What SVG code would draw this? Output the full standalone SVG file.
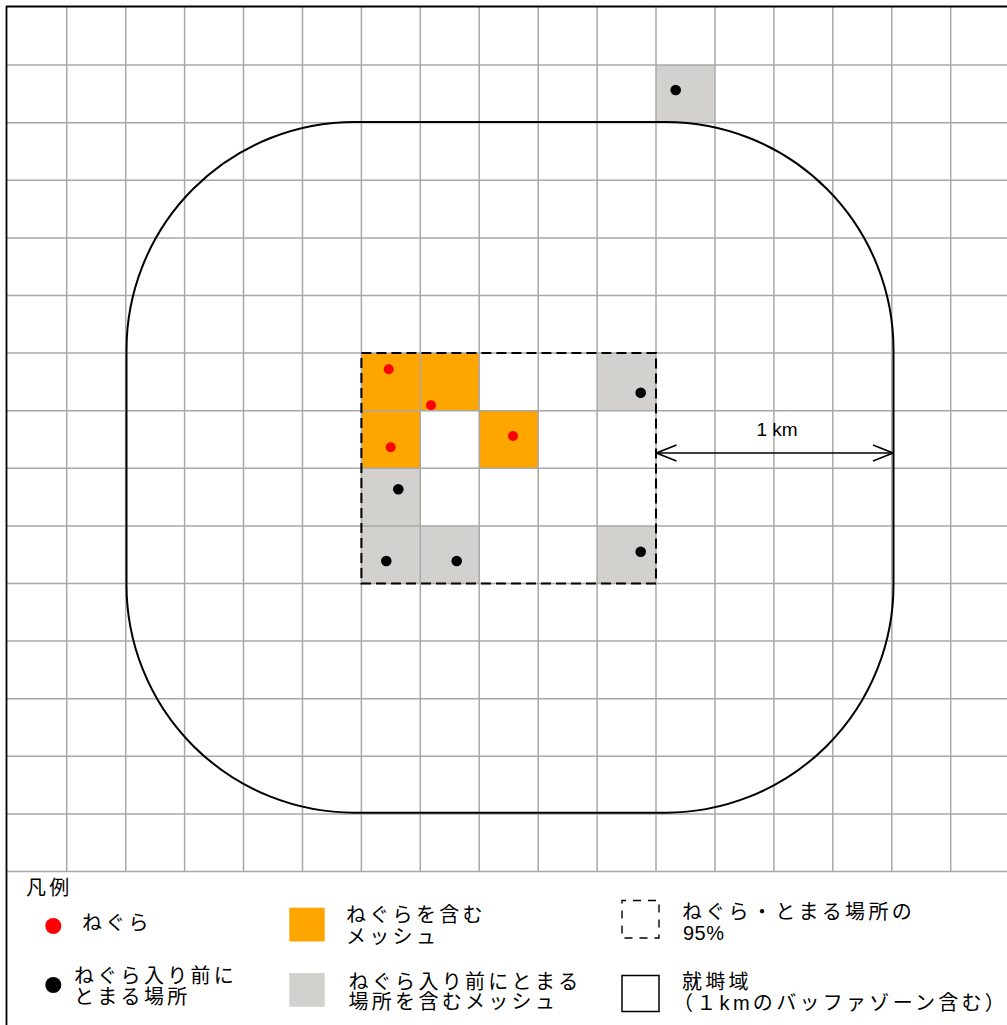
<svg xmlns="http://www.w3.org/2000/svg" width="1007" height="1025" viewBox="0 0 1007 1025">
  <style>
    .grid line { stroke: #a8a8a8; stroke-width: 1.5; }
    .orange { fill: #ffa500; }
    .gray { fill: #d2d1cd; }
    .red { fill: #ff0000; }
    .blk { fill: #000000; }
    .jp { font-family: "Liberation Sans", "Noto Sans CJK JP", sans-serif; font-size: 20px; letter-spacing: 3.3px; fill: #000; }
    .lat { font-family: "Liberation Sans", "Noto Sans CJK JP", sans-serif; fill: #000; }
  </style>
  <defs>
    <marker id="chev" viewBox="0 0 22 18" refX="21" refY="9" markerWidth="22" markerHeight="18" markerUnits="userSpaceOnUse" orient="auto-start-reverse">
      <path d="M1,1 L21,9 L1,17" fill="none" stroke="#000" stroke-width="1.6"/>
    </marker>
  </defs>

  <rect x="0" y="0" width="1007" height="1025" fill="#ffffff"/>

  <!-- filled mesh cells -->
  <g id="cells">
    <g id="cells-roost">
      <rect class="orange" x="361.4" y="353.1" width="58.9" height="57.6"/>
      <rect class="orange" x="420.3" y="353.1" width="58.9" height="57.6"/>
      <rect class="orange" x="361.4" y="410.7" width="58.9" height="57.6"/>
      <rect class="orange" x="479.2" y="410.7" width="59.0" height="57.6"/>
    </g>
    <g id="cells-stop">
      <rect class="gray" x="656.0" y="65.1" width="59.0" height="57.6"/>
      <rect class="gray" x="597.1" y="353.1" width="58.9" height="57.6"/>
      <rect class="gray" x="361.4" y="468.3" width="58.9" height="57.6"/>
      <rect class="gray" x="361.4" y="525.9" width="58.9" height="57.6"/>
      <rect class="gray" x="420.3" y="525.9" width="58.9" height="57.6"/>
      <rect class="gray" x="597.1" y="525.9" width="58.9" height="57.6"/>
    </g>
  </g>

  <!-- mesh grid -->
  <g id="grid" class="grid">
    <line x1="66.7" y1="7" x2="66.7" y2="871.5"/>
    <line x1="125.7" y1="7" x2="125.7" y2="871.5"/>
    <line x1="184.6" y1="7" x2="184.6" y2="871.5"/>
    <line x1="243.5" y1="7" x2="243.5" y2="871.5"/>
    <line x1="302.5" y1="7" x2="302.5" y2="871.5"/>
    <line x1="361.4" y1="7" x2="361.4" y2="871.5"/>
    <line x1="420.3" y1="7" x2="420.3" y2="871.5"/>
    <line x1="479.2" y1="7" x2="479.2" y2="871.5"/>
    <line x1="538.2" y1="7" x2="538.2" y2="871.5"/>
    <line x1="597.1" y1="7" x2="597.1" y2="871.5"/>
    <line x1="656.0" y1="7" x2="656.0" y2="871.5"/>
    <line x1="715.0" y1="7" x2="715.0" y2="871.5"/>
    <line x1="773.9" y1="7" x2="773.9" y2="871.5"/>
    <line x1="832.8" y1="7" x2="832.8" y2="871.5"/>
    <line x1="891.8" y1="7" x2="891.8" y2="871.5"/>
    <line x1="950.7" y1="7" x2="950.7" y2="871.5"/>
    <line x1="7" y1="65.1" x2="1007" y2="65.1"/>
    <line x1="7" y1="122.7" x2="1007" y2="122.7"/>
    <line x1="7" y1="180.3" x2="1007" y2="180.3"/>
    <line x1="7" y1="237.9" x2="1007" y2="237.9"/>
    <line x1="7" y1="295.5" x2="1007" y2="295.5"/>
    <line x1="7" y1="353.1" x2="1007" y2="353.1"/>
    <line x1="7" y1="410.7" x2="1007" y2="410.7"/>
    <line x1="7" y1="468.3" x2="1007" y2="468.3"/>
    <line x1="7" y1="525.9" x2="1007" y2="525.9"/>
    <line x1="7" y1="583.5" x2="1007" y2="583.5"/>
    <line x1="7" y1="641.1" x2="1007" y2="641.1"/>
    <line x1="7" y1="698.7" x2="1007" y2="698.7"/>
    <line x1="7" y1="756.3" x2="1007" y2="756.3"/>
    <line x1="7" y1="813.9" x2="1007" y2="813.9"/>
    <line x1="7" y1="871.5" x2="1007" y2="871.5"/>
  </g>

  <!-- frame -->
  <g id="frame">
    <line x1="6.5" y1="6" x2="6.5" y2="1025" stroke="#000" stroke-width="1.8"/>
    <line x1="6" y1="6.5" x2="1007" y2="6.5" stroke="#000" stroke-width="1.8"/>
  </g>

  <!-- home range (1 km buffer) -->
  <g id="home-range">
    <rect x="126.5" y="122" width="767" height="690.7" rx="228" ry="228" fill="none" stroke="#000" stroke-width="2"/>
  </g>

  <!-- 95% area -->
  <g id="area-95">
    <rect x="361.4" y="353.1" width="294.6" height="230.4" fill="none" stroke="#000" stroke-width="2" stroke-dasharray="10 5"/>
  </g>

  <!-- roost points -->
  <g id="roosts">
    <circle class="red" cx="388.7" cy="369.3" r="5"/>
    <circle class="red" cx="431" cy="405.3" r="5"/>
    <circle class="red" cx="390.7" cy="447.3" r="5"/>
    <circle class="red" cx="513" cy="436" r="5"/>
  </g>

  <!-- pre-roost stop points -->
  <g id="stops">
    <circle class="blk" cx="675.7" cy="90" r="5.3"/>
    <circle class="blk" cx="640.7" cy="392.7" r="5.3"/>
    <circle class="blk" cx="398.3" cy="489.3" r="5.3"/>
    <circle class="blk" cx="386.3" cy="561" r="5.3"/>
    <circle class="blk" cx="456.7" cy="561" r="5.3"/>
    <circle class="blk" cx="640.7" cy="551.7" r="5.3"/>
  </g>

  <!-- scale arrow -->
  <g id="connectors">
    <line x1="656.5" y1="453" x2="893" y2="453" stroke="#000" stroke-width="1.6" marker-start="url(#chev)" marker-end="url(#chev)"/>
  </g>
  <g id="scale-label">
    <text class="lat" x="777" y="436" font-size="19" text-anchor="middle">1 km</text>
  </g>

  <!-- legend -->
  <g id="legend">
    <text class="jp" x="26" y="895" font-size="19">凡例</text>

    <g id="legend-roost">
      <circle class="red" cx="53.3" cy="926" r="8"/>
      <text class="jp" x="82" y="930">ねぐら</text>
    </g>
    <g id="legend-stop">
      <circle class="blk" cx="53.3" cy="985" r="8"/>
      <text class="jp" x="74" y="982.5">ねぐら入り前に</text>
      <text class="jp" x="74" y="1003.5">とまる場所</text>
    </g>
    <g id="legend-roost-mesh">
      <rect class="orange" x="289.3" y="907.7" width="35.4" height="33.8"/>
      <text class="jp" x="346" y="922">ねぐらを含む</text>
      <text class="jp" x="346" y="943.5">メッシュ</text>
    </g>
    <g id="legend-stop-mesh">
      <rect class="gray" x="289.3" y="973" width="35.4" height="33.8"/>
      <text class="jp" x="348.5" y="988.5">ねぐら入り前にとまる</text>
      <text class="jp" x="348.5" y="1008.5">場所を含むメッシュ</text>
    </g>
    <g id="legend-95">
      <rect x="622" y="900.5" width="37" height="37.5" fill="none" stroke="#000" stroke-width="1.4" stroke-dasharray="8 7" stroke-dashoffset="4"/>
      <text class="jp" x="682" y="918.5">ねぐら・とまる場所の</text>
      <text class="lat" x="683" y="940" font-size="20" letter-spacing="0.5">95%</text>
    </g>
    <g id="legend-home">
      <rect x="622" y="975.5" width="37" height="36" fill="none" stroke="#000" stroke-width="1.5"/>
      <text class="jp" x="682" y="988.5">就塒域</text>
      <text class="jp" x="673" y="1009.5" letter-spacing="2.9">（１kmのバッファゾーン含む）</text>
    </g>
  </g>
</svg>
